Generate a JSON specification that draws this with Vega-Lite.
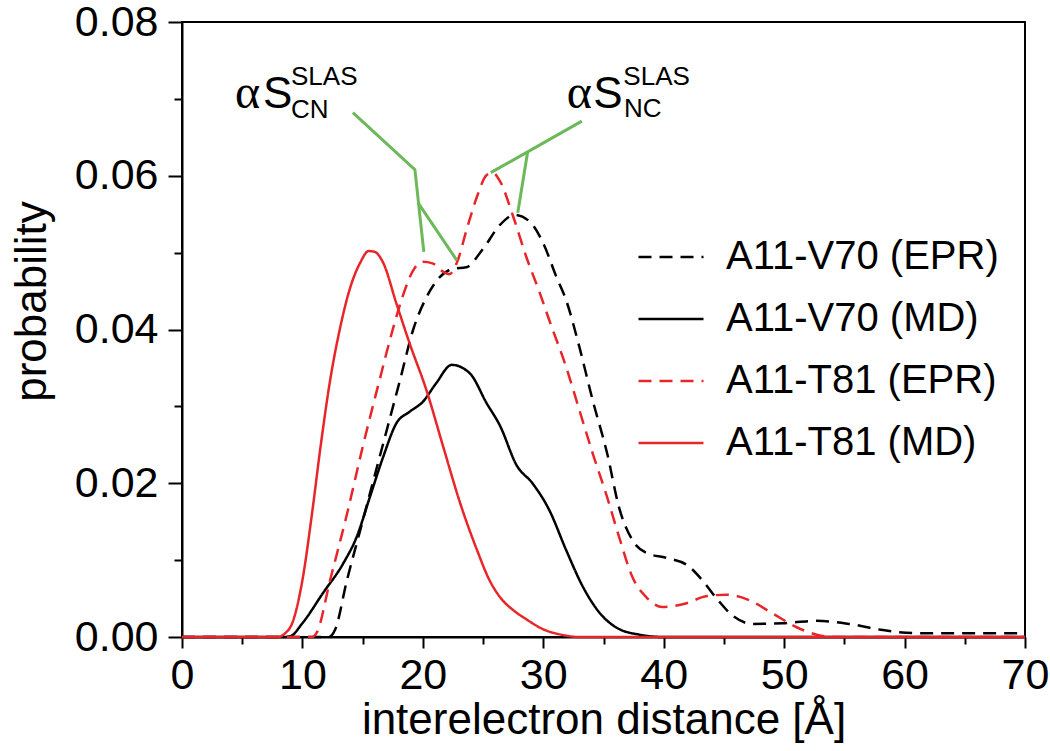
{
  "$schema": "https://vega.github.io/schema/vega-lite/v6.json",
  "width": 843,
  "height": 615,
  "autosize": {"type": "none"},
  "padding": {"left": 182, "top": 22, "right": 25, "bottom": 114},
  "background": "white",
  "config": {
    "view": {"stroke": "black", "strokeWidth": 2},
    "font": "Liberation Sans",
    "axis": {
      "domainColor": "black", "domainWidth": 2, "tickColor": "black", "tickWidth": 2,
      "labelColor": "black", "titleColor": "black", "labelFont": "Liberation Sans", "titleFont": "Liberation Sans",
      "titleFontWeight": "normal", "grid": false, "labelFontSize": 43, "titleFontSize": 44
    },
    "legend": {
      "padding": 0, "labelFont": "Liberation Sans", "labelFontSize": 40, "labelColor": "black",
      "symbolType": "stroke", "symbolSize": 4225, "symbolStrokeWidth": 2.5, "labelOffset": 21,
      "rowPadding": 8, "labelLimit": 600
    }
  },
  "datasets": {
    "curves": [
      {"series": "A11-V70 (EPR)", "distance": 0, "probability": 0},
      {"series": "A11-V70 (EPR)", "distance": 12.2, "probability": 0},
      {"series": "A11-V70 (EPR)", "distance": 12.7, "probability": 0.0009},
      {"series": "A11-V70 (EPR)", "distance": 13.7, "probability": 0.0074},
      {"series": "A11-V70 (EPR)", "distance": 14.8, "probability": 0.0139},
      {"series": "A11-V70 (EPR)", "distance": 15.9, "probability": 0.0204},
      {"series": "A11-V70 (EPR)", "distance": 17.0, "probability": 0.0269},
      {"series": "A11-V70 (EPR)", "distance": 18.1, "probability": 0.0334},
      {"series": "A11-V70 (EPR)", "distance": 19.2, "probability": 0.0400},
      {"series": "A11-V70 (EPR)", "distance": 20.3, "probability": 0.0442},
      {"series": "A11-V70 (EPR)", "distance": 21.4, "probability": 0.0468},
      {"series": "A11-V70 (EPR)", "distance": 22.5, "probability": 0.0479},
      {"series": "A11-V70 (EPR)", "distance": 23.6, "probability": 0.0481},
      {"series": "A11-V70 (EPR)", "distance": 25.0, "probability": 0.0505},
      {"series": "A11-V70 (EPR)", "distance": 26.4, "probability": 0.0536},
      {"series": "A11-V70 (EPR)", "distance": 27.6, "probability": 0.0549},
      {"series": "A11-V70 (EPR)", "distance": 28.9, "probability": 0.0540},
      {"series": "A11-V70 (EPR)", "distance": 30.0, "probability": 0.0512},
      {"series": "A11-V70 (EPR)", "distance": 31.1, "probability": 0.0468},
      {"series": "A11-V70 (EPR)", "distance": 31.9, "probability": 0.0438},
      {"series": "A11-V70 (EPR)", "distance": 33.0, "probability": 0.0377},
      {"series": "A11-V70 (EPR)", "distance": 34.1, "probability": 0.0308},
      {"series": "A11-V70 (EPR)", "distance": 35.3, "probability": 0.0239},
      {"series": "A11-V70 (EPR)", "distance": 36.3, "probability": 0.0168},
      {"series": "A11-V70 (EPR)", "distance": 37.4, "probability": 0.0126},
      {"series": "A11-V70 (EPR)", "distance": 38.6, "probability": 0.0109},
      {"series": "A11-V70 (EPR)", "distance": 40.2, "probability": 0.0103},
      {"series": "A11-V70 (EPR)", "distance": 41.9, "probability": 0.0094},
      {"series": "A11-V70 (EPR)", "distance": 43.2, "probability": 0.0074},
      {"series": "A11-V70 (EPR)", "distance": 44.4, "probability": 0.0050},
      {"series": "A11-V70 (EPR)", "distance": 45.7, "probability": 0.0028},
      {"series": "A11-V70 (EPR)", "distance": 47.4, "probability": 0.0017},
      {"series": "A11-V70 (EPR)", "distance": 49.9, "probability": 0.0018},
      {"series": "A11-V70 (EPR)", "distance": 52.7, "probability": 0.0021},
      {"series": "A11-V70 (EPR)", "distance": 55.4, "probability": 0.0017},
      {"series": "A11-V70 (EPR)", "distance": 58.2, "probability": 0.0009},
      {"series": "A11-V70 (EPR)", "distance": 61.0, "probability": 0.0005},
      {"series": "A11-V70 (EPR)", "distance": 65.0, "probability": 0.0005},
      {"series": "A11-V70 (EPR)", "distance": 70.0, "probability": 0.0005},

      {"series": "A11-V70 (MD)", "distance": 0, "probability": 0},
      {"series": "A11-V70 (MD)", "distance": 8.5, "probability": 0},
      {"series": "A11-V70 (MD)", "distance": 9.0, "probability": 0.0001},
      {"series": "A11-V70 (MD)", "distance": 10.0, "probability": 0.0018},
      {"series": "A11-V70 (MD)", "distance": 11.7, "probability": 0.0057},
      {"series": "A11-V70 (MD)", "distance": 13.4, "probability": 0.0096},
      {"series": "A11-V70 (MD)", "distance": 14.5, "probability": 0.0130},
      {"series": "A11-V70 (MD)", "distance": 15.6, "probability": 0.0182},
      {"series": "A11-V70 (MD)", "distance": 16.7, "probability": 0.0234},
      {"series": "A11-V70 (MD)", "distance": 17.8, "probability": 0.0278},
      {"series": "A11-V70 (MD)", "distance": 18.9, "probability": 0.0293},
      {"series": "A11-V70 (MD)", "distance": 20.0, "probability": 0.0306},
      {"series": "A11-V70 (MD)", "distance": 21.1, "probability": 0.0330},
      {"series": "A11-V70 (MD)", "distance": 22.4, "probability": 0.0354},
      {"series": "A11-V70 (MD)", "distance": 23.9, "probability": 0.0343},
      {"series": "A11-V70 (MD)", "distance": 25.3, "probability": 0.0304},
      {"series": "A11-V70 (MD)", "distance": 26.4, "probability": 0.0275},
      {"series": "A11-V70 (MD)", "distance": 27.8, "probability": 0.0223},
      {"series": "A11-V70 (MD)", "distance": 29.1, "probability": 0.0200},
      {"series": "A11-V70 (MD)", "distance": 30.5, "probability": 0.0165},
      {"series": "A11-V70 (MD)", "distance": 31.9, "probability": 0.0113},
      {"series": "A11-V70 (MD)", "distance": 33.3, "probability": 0.0065},
      {"series": "A11-V70 (MD)", "distance": 34.7, "probability": 0.0031},
      {"series": "A11-V70 (MD)", "distance": 36.1, "probability": 0.0012},
      {"series": "A11-V70 (MD)", "distance": 38.0, "probability": 0.0003},
      {"series": "A11-V70 (MD)", "distance": 40.0, "probability": 0},
      {"series": "A11-V70 (MD)", "distance": 70.0, "probability": 0},

      {"series": "A11-T81 (EPR)", "distance": 0, "probability": 0},
      {"series": "A11-T81 (EPR)", "distance": 10.8, "probability": 0},
      {"series": "A11-T81 (EPR)", "distance": 11.2, "probability": 0.0006},
      {"series": "A11-T81 (EPR)", "distance": 12.3, "probability": 0.0074},
      {"series": "A11-T81 (EPR)", "distance": 13.7, "probability": 0.0160},
      {"series": "A11-T81 (EPR)", "distance": 15.0, "probability": 0.0247},
      {"series": "A11-T81 (EPR)", "distance": 16.4, "probability": 0.0334},
      {"series": "A11-T81 (EPR)", "distance": 17.5, "probability": 0.0400},
      {"series": "A11-T81 (EPR)", "distance": 18.3, "probability": 0.0442},
      {"series": "A11-T81 (EPR)", "distance": 19.2, "probability": 0.0477},
      {"series": "A11-T81 (EPR)", "distance": 20.0, "probability": 0.0488},
      {"series": "A11-T81 (EPR)", "distance": 20.8, "probability": 0.0486},
      {"series": "A11-T81 (EPR)", "distance": 21.7, "probability": 0.0475},
      {"series": "A11-T81 (EPR)", "distance": 22.2, "probability": 0.0472},
      {"series": "A11-T81 (EPR)", "distance": 22.9, "probability": 0.0490},
      {"series": "A11-T81 (EPR)", "distance": 23.6, "probability": 0.0528},
      {"series": "A11-T81 (EPR)", "distance": 24.5, "probability": 0.0573},
      {"series": "A11-T81 (EPR)", "distance": 25.3, "probability": 0.0601},
      {"series": "A11-T81 (EPR)", "distance": 25.8, "probability": 0.0604},
      {"series": "A11-T81 (EPR)", "distance": 26.4, "probability": 0.0593},
      {"series": "A11-T81 (EPR)", "distance": 27.5, "probability": 0.0547},
      {"series": "A11-T81 (EPR)", "distance": 28.6, "probability": 0.0494},
      {"series": "A11-T81 (EPR)", "distance": 29.7, "probability": 0.0448},
      {"series": "A11-T81 (EPR)", "distance": 30.5, "probability": 0.0412},
      {"series": "A11-T81 (EPR)", "distance": 31.9, "probability": 0.0351},
      {"series": "A11-T81 (EPR)", "distance": 33.0, "probability": 0.0295},
      {"series": "A11-T81 (EPR)", "distance": 34.1, "probability": 0.0239},
      {"series": "A11-T81 (EPR)", "distance": 35.3, "probability": 0.0182},
      {"series": "A11-T81 (EPR)", "distance": 36.3, "probability": 0.0130},
      {"series": "A11-T81 (EPR)", "distance": 37.4, "probability": 0.0078},
      {"series": "A11-T81 (EPR)", "distance": 38.6, "probability": 0.0051},
      {"series": "A11-T81 (EPR)", "distance": 39.9, "probability": 0.0039},
      {"series": "A11-T81 (EPR)", "distance": 41.9, "probability": 0.0044},
      {"series": "A11-T81 (EPR)", "distance": 43.5, "probability": 0.0053},
      {"series": "A11-T81 (EPR)", "distance": 45.2, "probability": 0.0055},
      {"series": "A11-T81 (EPR)", "distance": 47.1, "probability": 0.0048},
      {"series": "A11-T81 (EPR)", "distance": 49.0, "probability": 0.0031},
      {"series": "A11-T81 (EPR)", "distance": 51.0, "probability": 0.0013},
      {"series": "A11-T81 (EPR)", "distance": 52.7, "probability": 0.0003},
      {"series": "A11-T81 (EPR)", "distance": 54.0, "probability": 0},
      {"series": "A11-T81 (EPR)", "distance": 70.0, "probability": 0},

      {"series": "A11-T81 (MD)", "distance": 0, "probability": 0},
      {"series": "A11-T81 (MD)", "distance": 8.0, "probability": 0},
      {"series": "A11-T81 (MD)", "distance": 8.5, "probability": 0.0004},
      {"series": "A11-T81 (MD)", "distance": 9.2, "probability": 0.0020},
      {"series": "A11-T81 (MD)", "distance": 10.0, "probability": 0.0074},
      {"series": "A11-T81 (MD)", "distance": 10.8, "probability": 0.0161},
      {"series": "A11-T81 (MD)", "distance": 11.5, "probability": 0.0247},
      {"series": "A11-T81 (MD)", "distance": 12.3, "probability": 0.0334},
      {"series": "A11-T81 (MD)", "distance": 13.1, "probability": 0.0400},
      {"series": "A11-T81 (MD)", "distance": 13.9, "probability": 0.0451},
      {"series": "A11-T81 (MD)", "distance": 14.8, "probability": 0.0487},
      {"series": "A11-T81 (MD)", "distance": 15.5, "probability": 0.0502},
      {"series": "A11-T81 (MD)", "distance": 16.0, "probability": 0.0501},
      {"series": "A11-T81 (MD)", "distance": 16.7, "probability": 0.0487},
      {"series": "A11-T81 (MD)", "distance": 17.8, "probability": 0.0434},
      {"series": "A11-T81 (MD)", "distance": 18.9, "probability": 0.0382},
      {"series": "A11-T81 (MD)", "distance": 20.3, "probability": 0.0321},
      {"series": "A11-T81 (MD)", "distance": 21.7, "probability": 0.0247},
      {"series": "A11-T81 (MD)", "distance": 23.1, "probability": 0.0174},
      {"series": "A11-T81 (MD)", "distance": 24.5, "probability": 0.0113},
      {"series": "A11-T81 (MD)", "distance": 25.5, "probability": 0.0075},
      {"series": "A11-T81 (MD)", "distance": 26.5, "probability": 0.0050},
      {"series": "A11-T81 (MD)", "distance": 27.5, "probability": 0.0035},
      {"series": "A11-T81 (MD)", "distance": 28.6, "probability": 0.0023},
      {"series": "A11-T81 (MD)", "distance": 30.0, "probability": 0.0010},
      {"series": "A11-T81 (MD)", "distance": 31.5, "probability": 0.0003},
      {"series": "A11-T81 (MD)", "distance": 33.0, "probability": 0},
      {"series": "A11-T81 (MD)", "distance": 70.0, "probability": 0}
    ],
    "pointers": [
      {"g": "a", "o": 1, "distance": 14.19, "probability": 0.0682},
      {"g": "a", "o": 2, "distance": 19.34, "probability": 0.0608},
      {"g": "a", "o": 3, "distance": 20.08, "probability": 0.0501},
      {"g": "b", "o": 1, "distance": 19.59, "probability": 0.0565},
      {"g": "b", "o": 2, "distance": 22.82, "probability": 0.0490},
      {"g": "c", "o": 1, "distance": 33.2, "probability": 0.0671},
      {"g": "c", "o": 2, "distance": 25.64, "probability": 0.0604},
      {"g": "d", "o": 1, "distance": 28.71, "probability": 0.0632},
      {"g": "d", "o": 2, "distance": 27.88, "probability": 0.0552}
    ],
    "notes": [
      {"kind": "alpha", "label": "α", "distance": 4.40, "probability": 0.0688},
      {"kind": "alpha", "label": "α", "distance": 31.95, "probability": 0.0688},
      {"kind": "big", "label": "S", "distance": 6.72, "probability": 0.0688},
      {"kind": "big", "label": "S", "distance": 34.15, "probability": 0.0688},
      {"kind": "small", "label": "SLAS", "distance": 9.05, "probability": 0.0718},
      {"kind": "small", "label": "CN", "distance": 9.05, "probability": 0.0675},
      {"kind": "small", "label": "SLAS", "distance": 36.65, "probability": 0.0718},
      {"kind": "small", "label": "NC", "distance": 36.7, "probability": 0.0677}
    ]
  },
  "layer": [
    {
      "data": {"name": "curves"},
      "mark": {"type": "line", "strokeWidth": 2.5, "interpolate": "monotone"},
      "encoding": {
        "x": {
          "field": "distance", "type": "quantitative",
          "scale": {"domain": [0, 70], "nice": false, "zero": false},
          "axis": {
            "orient": "bottom", "values": [0, 10, 20, 30, 40, 50, 60, 70], "tickSize": 11, "labelPadding": 6,
            "labelFlush": false, "labelOverlap": false,
            "title": "interelectron distance [Å]", "titleY": 96, "titleBaseline": "alphabetic"
          }
        },
        "y": {
          "field": "probability", "type": "quantitative",
          "scale": {"domain": [0, 0.08], "nice": false, "zero": false},
          "axis": {
            "orient": "left", "values": [0, 0.02, 0.04, 0.06, 0.08], "format": ".2f", "tickSize": 14, "labelPadding": 10,
            "labelFlush": false, "labelOverlap": false,
            "title": "probability", "titleX": -137, "titleY": 279, "titleBaseline": "alphabetic", "titleAlign": "center", "titleAngle": -90
          }
        },
        "color": {
          "field": "series", "type": "nominal",
          "scale": {"domain": ["A11-V70 (EPR)", "A11-V70 (MD)", "A11-T81 (EPR)", "A11-T81 (MD)"], "range": ["#000000", "#000000", "#e8262a", "#e8262a"]},
          "legend": {"title": null, "orient": "none", "legendX": 455, "legendY": 201}
        },
        "strokeDash": {
          "field": "series", "type": "nominal",
          "scale": {"domain": ["A11-V70 (EPR)", "A11-V70 (MD)", "A11-T81 (EPR)", "A11-T81 (MD)"], "range": [[13, 8], [1, 0], [13, 8], [1, 0]]},
          "legend": {"title": null, "orient": "none", "legendX": 455, "legendY": 201}
        }
      }
    },
    {
      "data": {"name": "pointers"},
      "mark": {"type": "line", "color": "#6cb85a", "strokeWidth": 3},
      "encoding": {
        "x": {
          "field": "distance", "type": "quantitative",
          "scale": {"domain": [0, 70], "nice": false, "zero": false},
          "axis": {"orient": "bottom", "values": [5, 15, 25, 35, 45, 55, 65], "labels": false, "domain": false, "tickSize": 7, "title": null}
        },
        "y": {
          "field": "probability", "type": "quantitative",
          "scale": {"domain": [0, 0.08], "nice": false, "zero": false},
          "axis": {"orient": "left", "values": [0.01, 0.03, 0.05, 0.07], "labels": false, "domain": false, "tickSize": 8, "title": null}
        },
        "detail": {"field": "g", "type": "nominal"},
        "order": {"field": "o", "type": "quantitative"}
      }
    },
    {
      "data": {"name": "notes"},
      "transform": [{"filter": "datum.kind === 'alpha'"}],
      "mark": {"type": "text", "font": "Liberation Serif", "fontSize": 48, "align": "left", "baseline": "alphabetic", "color": "black"},
      "encoding": {
        "x": {"field": "distance", "type": "quantitative", "scale": {"domain": [0, 70], "nice": false, "zero": false}, "axis": null},
        "y": {"field": "probability", "type": "quantitative", "scale": {"domain": [0, 0.08], "nice": false, "zero": false}, "axis": null},
        "text": {"field": "label"}
      }
    },
    {
      "data": {"name": "notes"},
      "transform": [{"filter": "datum.kind === 'big'"}],
      "mark": {"type": "text", "font": "Liberation Sans", "fontSize": 44, "align": "left", "baseline": "alphabetic", "color": "black"},
      "encoding": {
        "x": {"field": "distance", "type": "quantitative", "scale": {"domain": [0, 70], "nice": false, "zero": false}, "axis": null},
        "y": {"field": "probability", "type": "quantitative", "scale": {"domain": [0, 0.08], "nice": false, "zero": false}, "axis": null},
        "text": {"field": "label"}
      }
    },
    {
      "data": {"name": "notes"},
      "transform": [{"filter": "datum.kind === 'small'"}],
      "mark": {"type": "text", "font": "Liberation Sans", "fontSize": 26, "align": "left", "baseline": "alphabetic", "color": "black"},
      "encoding": {
        "x": {"field": "distance", "type": "quantitative", "scale": {"domain": [0, 70], "nice": false, "zero": false}, "axis": null},
        "y": {"field": "probability", "type": "quantitative", "scale": {"domain": [0, 0.08], "nice": false, "zero": false}, "axis": null},
        "text": {"field": "label"}
      }
    }
  ],
  "resolve": {"axis": {"x": "independent", "y": "independent"}}
}
